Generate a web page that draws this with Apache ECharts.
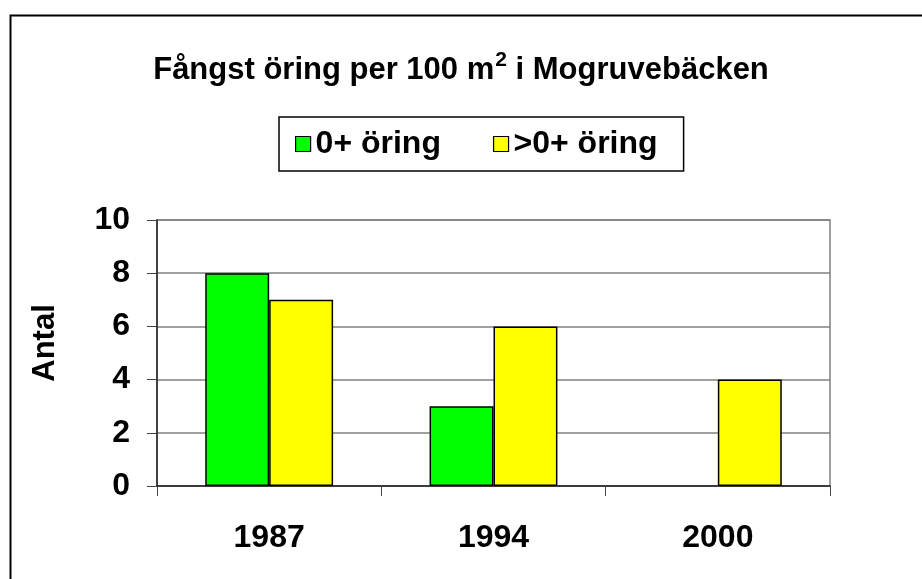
<!DOCTYPE html>
<html>
<head>
<meta charset="utf-8">
<title>Fångst öring</title>
<script src="https://cdn.jsdelivr.net/npm/echarts@6/dist/echarts.min.js"></script>
<style>
  html, body { margin: 0; padding: 0; background: #fff; }
  #myChart { width: 922px; height: 579px; }
</style>
</head>
<body>
<div id="myChart"></div>
<script>
  // data
  var years = ['1987', '1994', '2000']
  var smallTrout = [8, 3, null]   // 0+ öring
  var bigTrout = [7, 6, 4]        // >0+ öring
  var yTicks = [0, 2, 4, 6, 8, 10]

  var font = '"Liberation Sans", Arial, sans-serif'
  var myChart = echarts.init(document.getElementById('myChart'))

  var option = {
    backgroundColor: '#fff',
    animation: false,
    title: {
      text: '{a|Fångst öring per 100 m}{s|2}{a| i Mogruvebäcken}',
      left: 'center',
      top: 45,
      textStyle: {
        rich: {
          a: { fontFamily: font, fontWeight: 'bold', fontSize: 31, color: '#000', lineHeight: 40 },
          s: { fontFamily: font, fontWeight: 'bold', fontSize: 21, color: '#000', verticalAlign: 'top', lineHeight: 40, padding: [0, 0, 20, 1] }
        }
      }
    },
    legend: {
      left: 279,
      top: 117,
      padding: [11, 26, 11, 16],
      borderColor: '#000',
      borderWidth: 1.5,
      itemGap: 52,
      itemWidth: 15,
      itemHeight: 15,
      icon: 'rect',
      itemStyle: { borderColor: '#000', borderWidth: 1.2 },
      textStyle: { fontFamily: font, fontWeight: 'bold', fontSize: 32, color: '#000' },
      data: ['0+ öring', '>0+ öring']
    },
    grid: {
      left: 157,
      right: 92,
      top: 220,
      bottom: 93,
      show: true,
      borderColor: '#808080',
      borderWidth: 1.5
    },
    xAxis: {
      type: 'category',
      data: years,
      axisLine: { lineStyle: { color: '#222', width: 1.5 } },
      axisTick: { show: true, alignWithLabel: false, length: 10, lineStyle: { color: '#444' } },
      axisLabel: { margin: 36, fontFamily: font, fontWeight: 'bold', fontSize: 32, color: '#000' }
    },
    yAxis: {
      type: 'value',
      min: yTicks[0],
      max: yTicks[yTicks.length - 1],
      interval: yTicks[1] - yTicks[0],
      name: 'Antal',
      nameLocation: 'middle',
      nameRotate: 90,
      nameGap: 96,
      nameTextStyle: { fontFamily: font, fontWeight: 'bold', fontSize: 31, color: '#000', padding: [0, 0, 0, 20] },
      axisLine: { show: true, lineStyle: { color: '#222', width: 1.5 } },
      axisTick: { show: true, length: 10, lineStyle: { color: '#444' } },
      splitLine: { lineStyle: { color: '#808080', width: 1.5 } },
      axisLabel: { margin: 27, fontFamily: font, fontWeight: 'bold', fontSize: 32, color: '#000' }
    },
    series: [
      {
        name: '0+ öring',
        type: 'bar',
        data: smallTrout,
        barWidth: '28.5%',
        barGap: 0,
        itemStyle: { color: '#00ff00', borderColor: '#000', borderWidth: 1.5 }
      },
      {
        name: '>0+ öring',
        type: 'bar',
        data: bigTrout,
        barWidth: '28.5%',
        barGap: 0,
        itemStyle: { color: '#ffff00', borderColor: '#000', borderWidth: 1.5 }
      }
    ],
    // outer frame of the chart area, it runs off the right and bottom edge
    graphic: [
      {
        type: 'rect',
        left: 8,
        top: 13,
        shape: { width: 1000, height: 700 },
        style: { fill: null, stroke: '#000', lineWidth: 2 },
        z: 100
      }
    ]
  }

  myChart.setOption(option, true)
</script>
</body>
</html>
